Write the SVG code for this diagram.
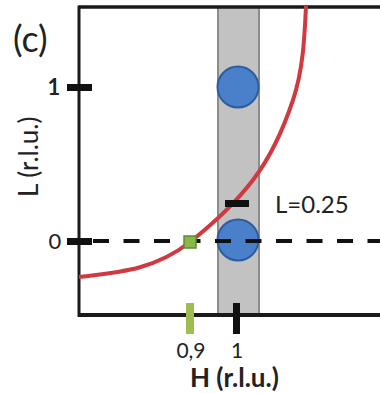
<svg xmlns="http://www.w3.org/2000/svg" width="380" height="393" viewBox="0 0 380 393">
<style>
.lbl{font-family:Lato,"Liberation Sans",sans-serif;fill:#222}
.tick{fill:#111}
</style>
<rect width="380" height="393" fill="#fff"/>
<g id="band"><rect x="218" y="7" width="41" height="309" fill="#c2c2c2" stroke="#8c8c8c" stroke-width="2"/></g>
<g id="axes" stroke="#1a1a1a" fill="none">
<line x1="79" y1="7" x2="380" y2="7" stroke-width="3.5"/>
<line x1="79" y1="5.5" x2="79" y2="317" stroke-width="3"/>
<line x1="78" y1="315" x2="380" y2="315" stroke-width="4"/>
</g>
<g id="peak1"><circle cx="238" cy="87" r="20.5" fill="#4a7fc9" stroke="#2f5c9e" stroke-width="2"/></g>
<g id="peak0"><circle cx="238" cy="240" r="20.5" fill="#4a7fc9" stroke="#2f5c9e" stroke-width="2"/></g>
<g id="connectors">
<path id="ewald" d="M79,277 C116,272.5 153,271 190,242 C211,225.4 235.4,203 253,180 C271,156.5 283.5,128.5 293,100 C303,70.5 304.5,38 306,6" fill="none" stroke="#d0393f" stroke-width="4"/>
<line x1="93" y1="241" x2="380" y2="241" stroke="#111" stroke-width="4" stroke-dasharray="16 14.5"/>
</g>
<g id="ticks">
<rect class="tick" x="67" y="84" width="25" height="7"/>
<rect class="tick" x="67" y="238" width="25" height="7"/>
<rect class="tick" x="225" y="200" width="24" height="7"/>
<rect class="tick" x="233" y="303" width="7" height="31"/>
<rect x="186" y="303" width="8" height="31" fill="#9dbd52"/>
</g>
<g id="point"><rect x="184" y="236" width="12" height="12" fill="#8ab64c" stroke="#5e8c2c" stroke-width="1.5"/></g>
<g id="labels">
<text class="lbl" x="13" y="52" font-size="36">(c)</text>
<text class="lbl" x="54" y="95" font-size="22" text-anchor="middle" font-weight="bold" fill="#333">1</text>
<text class="lbl" x="55" y="249" font-size="22" text-anchor="middle" fill="#333">0</text>
<text class="lbl" transform="translate(38,197) rotate(-90)" font-size="26">L (r.l.u.)</text>
<text class="lbl" x="275" y="213" font-size="24" fill="#333">L=0.25</text>
<text class="lbl" x="191" y="358" font-size="21" text-anchor="middle" fill="#8a9a45">0,9</text>
<text class="lbl" x="237" y="358" font-size="21" text-anchor="middle" fill="#333">1</text>
<text class="lbl" x="190" y="387" font-size="26" font-weight="bold">H (r.l.u.)</text>
</g>
</svg>
